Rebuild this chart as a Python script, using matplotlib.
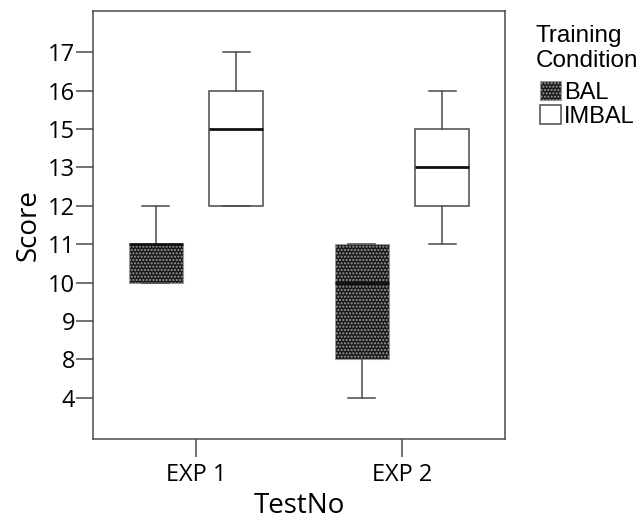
import numpy as np
import matplotlib
matplotlib.use('Agg')
from matplotlib import pyplot as plt
from matplotlib.patches import Patch

# y-axis labels as printed (14 is skipped, spacing is even)
y_ticks = [4, 8, 9, 10, 11, 12, 13, 15, 16, 17]
tests = ['EXP 1', 'EXP 2']
groups = ['BAL', 'IMBAL']

# box summaries per group, one value per test
bal_low = [10, 4]
bal_q1 = [10, 8]
bal_med = [11, 10]
bal_q3 = [11, 11]
bal_high = [12, 11]

imbal_low = [12, 11]
imbal_q1 = [12, 12]
imbal_med = [15, 13]
imbal_q3 = [16, 15]
imbal_high = [17, 16]

# the printed axis is evenly spaced by label, so map score -> slot index
pad = 1.07
lo_v = y_ticks[0] - pad * (y_ticks[1] - y_ticks[0])
hi_v = y_ticks[-1] + pad * (y_ticks[-1] - y_ticks[-2])
ext_t = [lo_v] + y_ticks + [hi_v]
ext_i = [-pad] + list(range(len(y_ticks))) + [len(y_ticks) - 1 + pad]


def fwd(v):
    return np.interp(np.asarray(v, dtype=float), ext_t, ext_i)


def inv(p):
    return np.interp(np.asarray(p, dtype=float), ext_i, ext_t)


def stats(lo, q1, med, q3, hi):
    return [dict(whislo=lo[i], q1=q1[i], med=med[i], q3=q3[i], whishi=hi[i], fliers=[])
            for i in range(len(lo))]


fig = plt.figure(figsize=(6.41, 5.25), dpi=100)
ax = fig.add_axes([93 / 641, 86 / 525, 412 / 641, 428 / 525])
ax.set_yscale('function', functions=(fwd, inv))

line = '#4a4a4a'
x = np.arange(len(tests))
off = 0.195
w = 0.26

common = dict(widths=w, patch_artist=True, showfliers=False,
              whiskerprops=dict(color=line, lw=1.1),
              capprops=dict(color=line, lw=1.1),
              medianprops=dict(color='#111111', lw=2))

b1 = ax.bxp(stats(bal_low, bal_q1, bal_med, bal_q3, bal_high), positions=x - off,
            boxprops=dict(facecolor='#1a1a1a', edgecolor='#9a9a9a', hatch='.....', lw=0.8),
            **common)
b2 = ax.bxp(stats(imbal_low, imbal_q1, imbal_med, imbal_q3, imbal_high), positions=x + off,
            boxprops=dict(facecolor='white', edgecolor=line, lw=1.1), **common)
for cap in b1['caps'] + b2['caps']:
    c = np.mean(cap.get_xdata())
    cap.set_xdata([c - w / 4, c + w / 4])

ax.set_xlim(-0.5, 1.5)
ax.set_ylim(lo_v, hi_v)
ax.set_yticks(y_ticks)
ax.set_yticklabels([str(t) for t in y_ticks])
ax.yaxis.set_minor_locator(plt.NullLocator())
ax.set_xticks(x)
ax.set_xticklabels(tests)

for lab in ax.get_xticklabels() + ax.get_yticklabels():
    lab.set_fontfamily('Open Sans')
    lab.set_fontsize(17)
ax.tick_params(axis='y', length=12, width=1.1, color=line, pad=1)
ax.tick_params(axis='x', length=13, width=1.1, color=line, pad=4)
for s in ax.spines.values():
    s.set_color(line)
    s.set_linewidth(1.1)

ax.set_ylabel('Score', family='Open Sans', size=20, labelpad=4)
ax.set_xlabel('TestNo', family='Open Sans', size=20, labelpad=4)

handles = [Patch(facecolor='#1a1a1a', edgecolor='#9a9a9a', hatch='.....', lw=0.8),
           Patch(facecolor='white', edgecolor=line, lw=1.1)]
leg = fig.legend(handles, groups, title='Training\nCondition', loc='upper left',
                 bbox_to_anchor=(536 / 641, 1 - 25 / 525), frameon=False,
                 prop=dict(family='Liberation Sans', size=17),
                 title_fontproperties=dict(family='Liberation Sans', size=17.5),
                 handlelength=0.9, handleheight=0.9, handletextpad=0.1,
                 labelspacing=0.05, borderaxespad=0, borderpad=0)
leg._legend_box.sep = 6

fig.savefig('out.png', dpi=100)
